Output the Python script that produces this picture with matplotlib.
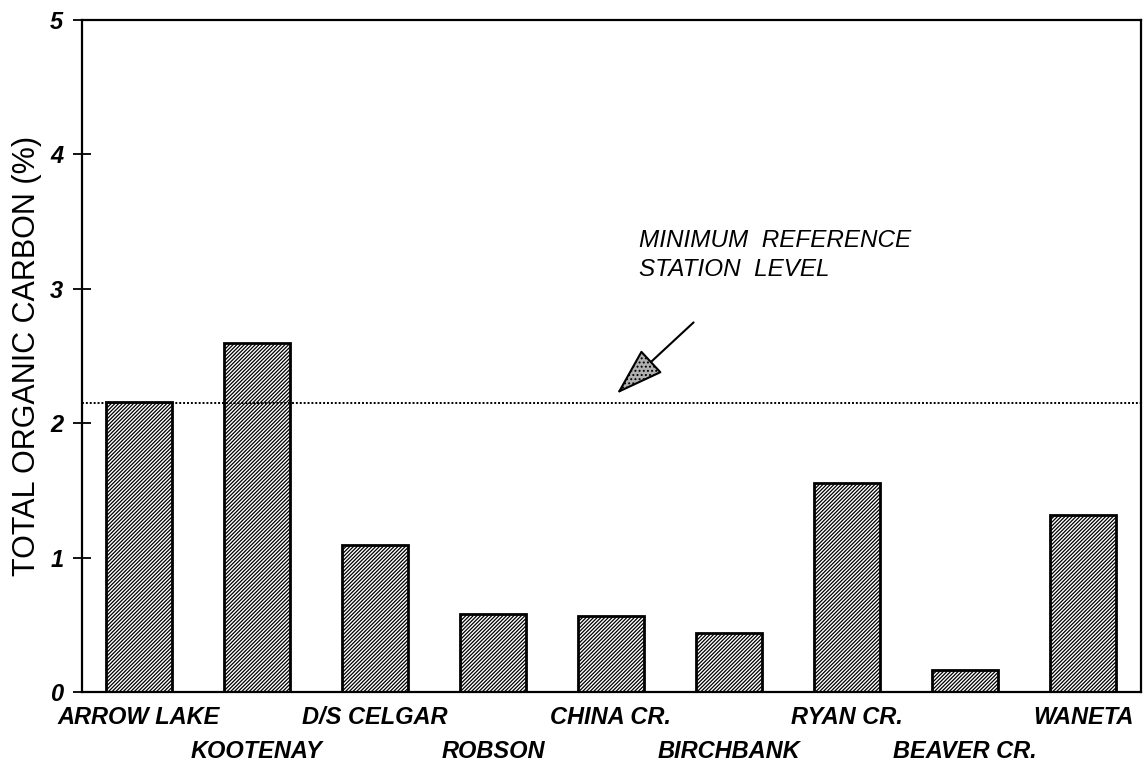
import matplotlib
matplotlib.use("Agg")
import matplotlib.pyplot as plt
from matplotlib.patches import FancyArrowPatch

# station names, in plotting order
stations = ["ARROW LAKE", "KOOTENAY", "D/S CELGAR", "ROBSON", "CHINA CR.",
            "BIRCHBANK", "RYAN CR.", "BEAVER CR.", "WANETA"]
toc_pct = [2.16, 2.60, 1.09, 0.58, 0.565, 0.44, 1.555, 0.16, 1.32]
ref_level = 2.15
y_ticks = [0, 1, 2, 3, 4, 5]

plt.rcParams["font.family"] = ["Liberation Sans", "DejaVu Sans"]
plt.rcParams["hatch.linewidth"] = 0.9

fig = plt.figure(figsize=(11.47, 7.67), dpi=100)
ax = fig.add_axes([0.0715, 0.0978, 0.9233, 0.8761])

xs = list(range(len(stations)))
ax.bar(xs, toc_pct, width=0.56, color="white", edgecolor="black",
       linewidth=2, hatch="/" * 9, zorder=2)

# minimum reference station level
ax.axhline(ref_level, color="black", linestyle=(0, (1, 1.0)), linewidth=1.4, zorder=3)

ax.set_xlim(-0.48, 8.49)
ax.set_ylim(0, 5)
ax.set_yticks(y_ticks)
ax.set_yticklabels([str(t) for t in y_ticks], fontsize=17, style="italic",
                   fontweight="bold")
ax.tick_params(axis="y", direction="inout", length=13, width=1.3, pad=7)
ax.set_xticks([])

for s in ax.spines.values():
    s.set_linewidth(1.6)

# staggered station labels
for i, name in enumerate(stations):
    y_off = -0.193 if i % 2 == 0 else -0.44
    ax.text(i, y_off, name, ha="center", va="center", fontsize=17,
            style="italic", fontweight="bold", clip_on=False)

ax.set_ylabel("TOTAL ORGANIC CARBON (%)", fontsize=22, labelpad=6)

ax.text(4.24, 3.25, "MINIMUM  REFERENCE\nSTATION  LEVEL", fontsize=17.5,
        style="italic", ha="left", va="center", linespacing=1.35)

arrow = FancyArrowPatch((4.70, 2.75), (4.05, 2.22),
                        arrowstyle="-|>,head_length=31,head_width=10",
                        mutation_scale=1, shrinkA=0, shrinkB=0, linewidth=1.5,
                        edgecolor="black", facecolor="#b0b0b0", hatch="....",
                        zorder=4)
ax.add_patch(arrow)

plt.savefig("out.png", dpi=100)
plt.close()
